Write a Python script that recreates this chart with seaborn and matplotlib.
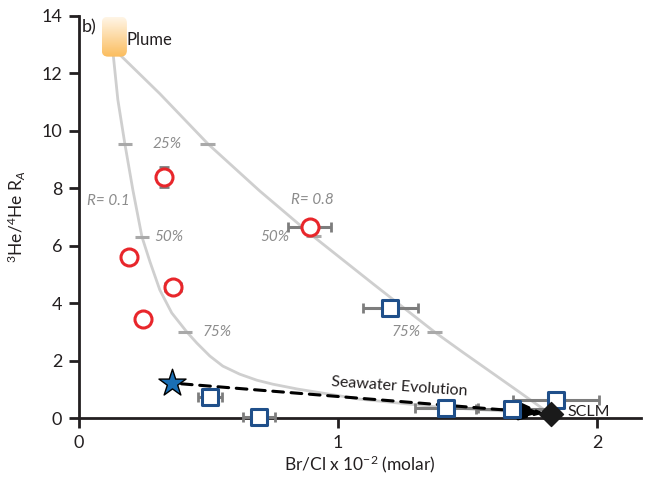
import numpy as np
import pandas as pd
import matplotlib
matplotlib.use("Agg")
import matplotlib.pyplot as plt
from matplotlib.patches import FancyBboxPatch
from matplotlib.colors import LinearSegmentedColormap
import seaborn as sns

# ---- data ---------------------------------------------------------------
# Samples with high 3He/4He (open circles)
circ_x = [0.328, 0.193, 0.362, 0.247, 0.890]
circ_y = [8.40, 5.61, 4.56, 3.45, 6.66]
circ_xerr = [0.0, 0.0, 0.03, 0.0, 0.083]
circ_yerr = [0.35, 0.0, 0.0, 0.0, 0.0]

# Samples near the crustal/seawater trend (open squares)
sq_x = [1.202, 0.505, 0.694, 1.418, 1.672, 1.842]
sq_y = [3.83, 0.75, 0.05, 0.35, 0.31, 0.63]
sq_xerr = [0.106, 0.046, 0.062, 0.123, 0.14, 0.165]

# End members
seawater = (0.358, 1.22)
sclm = (1.823, 0.15)

# Mixing curves, plume -> SCLM
mix_r01_x = [0.131, 0.150, 0.177, 0.208, 0.243, 0.274, 0.312, 0.358, 0.416,
             0.455, 0.505, 0.555, 0.620, 0.686, 0.748, 0.844, 0.940, 1.083,
             1.237, 1.391, 1.649, 1.819]
mix_r01_y = [12.75, 11.08, 9.55, 7.94, 6.31, 5.44, 4.46, 3.66, 3.00,
             2.61, 2.16, 1.81, 1.53, 1.32, 1.18, 1.01, 0.87, 0.66,
             0.52, 0.38, 0.24, 0.14]
mix_r08_x = [0.146, 0.312, 0.497, 0.697, 0.902, 1.141, 1.372, 1.480,
             1.584, 1.699, 1.819]
mix_r08_y = [12.75, 11.29, 9.55, 7.91, 6.34, 4.63, 3.00, 2.30,
             1.64, 0.91, 0.14]

# Mixing-fraction ticks and their labels
frac_x = [0.177, 0.243, 0.409, 0.497, 0.906, 1.372]
frac_y = [9.55, 6.31, 3.00, 9.55, 6.34, 3.00]
frac_lab_x = [0.339, 0.347, 0.532, 0.755, 1.264]
frac_lab_y = [9.55, 6.31, 3.00, 6.31, 3.00]
frac_lab = ["25%", "50%", "75%", "50%", "75%"]

x_ticks = [0, 1, 2]
y_ticks = [0, 2, 4, 6, 8, 10, 12, 14]

# ---- style --------------------------------------------------------------
sns.set_theme(style="ticks")
plt.rcParams["font.family"] = ["Lato", "DejaVu Sans"]
plt.rcParams["mathtext.fontset"] = "custom"
plt.rcParams["mathtext.rm"] = "Lato"
plt.rcParams["mathtext.it"] = "Lato:italic"

DARK = "#231f20"
CURVE = "#cfcfcf"
FRAC = "#a9a9a9"
LABEL = "#8c8c8c"
ERR = "#7d7d7d"
RED = "#e8262b"
BLUE = "#1f4f8a"

fig = plt.figure(figsize=(6.5, 4.8), dpi=100)
ax = fig.add_axes([0.1215, 0.129, 0.865, 0.838])

# mixing curves
mix = pd.concat([
    pd.DataFrame({"x": mix_r01_x, "y": mix_r01_y, "R": "0.1"}),
    pd.DataFrame({"x": mix_r08_x, "y": mix_r08_y, "R": "0.8"}),
])
sns.lineplot(data=mix, x="x", y="y", units="R", estimator=None, sort=False,
             color=CURVE, lw=2, ax=ax, zorder=1, legend=False)

# short fraction marks on the curves
ax.errorbar(frac_x, frac_y, xerr=0.028, fmt="none", ecolor=FRAC,
            elinewidth=2.2, capsize=0, zorder=2)
for lx, ly, t in zip(frac_lab_x, frac_lab_y, frac_lab):
    ax.text(lx, ly, t, color=LABEL, fontsize=11, style="italic",
            ha="center", va="center", zorder=2)
ax.text(0.031, 7.56, "R= 0.1", color=LABEL, fontsize=11, style="italic",
        ha="left", va="center")
ax.text(0.82, 7.60, "R= 0.8", color=LABEL, fontsize=11, style="italic",
        ha="left", va="center")

# error bars
ax.errorbar(circ_x, circ_y, xerr=circ_xerr, yerr=circ_yerr, fmt="none",
            ecolor=ERR, elinewidth=2.2, capsize=3.5, capthick=2, zorder=4,
            clip_on=False)
ax.errorbar(sq_x, sq_y, xerr=sq_xerr, fmt="none", ecolor=ERR,
            elinewidth=2.2, capsize=3.5, capthick=2, zorder=4, clip_on=False)

# seawater evolution arrow
ax.annotate("", xy=sclm, xytext=seawater,
            arrowprops=dict(arrowstyle="-|>,head_length=1.1,head_width=0.4",
                            mutation_scale=14,
                            linestyle=(0, (3.5, 2.5)), lw=2.2, color="black",
                            shrinkA=7, shrinkB=5),
            zorder=4.5)
ax.text(1.237, 1.08, "Seawater Evolution", fontsize=11.5, color=DARK,
        rotation=-4, ha="center", va="center", zorder=4)

# data points
pts_c = pd.DataFrame({"x": circ_x, "y": circ_y})
pts_s = pd.DataFrame({"x": sq_x, "y": sq_y})
sns.scatterplot(data=pts_c, x="x", y="y", marker="o", s=150, facecolor="white",
                edgecolor=RED, linewidth=2.2, ax=ax, zorder=5, clip_on=False)
sns.scatterplot(data=pts_s, x="x", y="y", marker="s", s=130, facecolor="white",
                edgecolor=BLUE, linewidth=2.2, ax=ax, zorder=5, clip_on=False)
sns.scatterplot(x=[seawater[0]], y=[seawater[1]], marker="*", s=420,
                color="#1a6fb5", edgecolor="black", linewidth=1.0, ax=ax,
                zorder=6, clip_on=False)
sns.scatterplot(x=[sclm[0]], y=[sclm[1]], marker="D", s=150, color="#1a1a1a",
                edgecolor="#1a1a1a", ax=ax, zorder=6, clip_on=False)
ax.text(1.884, 0.20, "SCLM", fontsize=11.5, color=DARK, ha="left",
        va="center", zorder=6)

# plume end member: rounded cylinder with a soft orange gradient
px0, px1, py0, py1 = 0.088, 0.185, 12.58, 13.97
body = FancyBboxPatch((px0, py0), px1 - px0, py1 - py0,
                      boxstyle="round,pad=0,rounding_size=0.024",
                      mutation_aspect=9.0, transform=ax.transData,
                      facecolor="none", edgecolor="none")
ax.add_patch(body)
grad_cmap = LinearSegmentedColormap.from_list("plume", ["#fbbd5e", "#fff5e6"])
img = ax.imshow(np.linspace(0, 1, 64).reshape(-1, 1), cmap=grad_cmap,
                extent=[px0, px1, py0, py1], origin="lower", aspect="auto",
                zorder=3)
img.set_clip_path(body)
ax.text(0.185, 13.15, "Plume", fontsize=12, color=DARK, ha="left",
        va="center")
ax.text(0.012, 13.6, "b)", fontsize=13, color=DARK, ha="left", va="center")

# axes
ax.set_xlim(0, 2.17)
ax.set_ylim(0, 14)
ax.set_xticks(x_ticks)
ax.set_yticks(y_ticks)
ax.set_xticklabels([str(v) for v in x_ticks])
ax.set_yticklabels([str(v) for v in y_ticks])
sns.despine(ax=ax)
for s in ("left", "bottom"):
    ax.spines[s].set_linewidth(2)
    ax.spines[s].set_color(DARK)
ax.tick_params(axis="both", direction="out", length=7, width=2, color=DARK,
               labelsize=13, labelcolor=DARK, pad=5)
ax.set_xlabel(r"Br/Cl x 10$^{-2}$ (molar)", fontsize=12.5, color=DARK,
              labelpad=2)
ax.set_ylabel(r"$^{3}$He/$^{4}$He R$_{A}$", fontsize=12.5, color=DARK,
              labelpad=10)

fig.savefig("out.png", dpi=100)
